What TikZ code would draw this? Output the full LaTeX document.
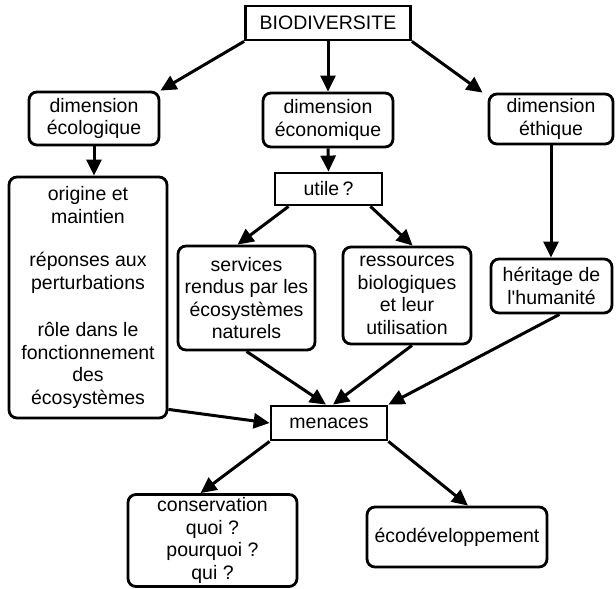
\documentclass[tikz,border=0pt]{standalone}
\usepackage{fontspec}
\setmainfont{Liberation Sans}
\usetikzlibrary{arrows.meta}
\begin{document}
\begin{tikzpicture}[x=1pt,y=-1pt,
  every node/.style={font=\fontsize{19.5pt}{22.5pt}\selectfont, align=center, inner sep=0pt},
  sqbox/.style={draw, line width=2.8pt},
  rbox/.style={draw, line width=2.8pt, rounded corners=8pt},
  conn/.style={line width=3pt, -{Triangle[length=16pt,width=15pt]}}
]
\useasboundingbox (0,0) rectangle (616,589);

% nodes
\node[sqbox, minimum width=165pt, minimum height=34pt] (bio) at (328,23) {BIODIVERSITE};
\node[rbox, minimum width=130pt, minimum height=53pt] (eco) at (94,118.5) {dimension\\écologique};
\node[rbox, minimum width=130pt, minimum height=54pt] (econ) at (328,120) {dimension\\économique};
\node[rbox, minimum width=124pt, minimum height=50pt] (eth) at (551,119) {dimension\\éthique};
\node[rbox, minimum width=158pt, minimum height=241pt] (orig) at (88,297.5)
  {origine et\\maintien\\[21pt]réponses aux\\perturbations\\[25pt]rôle dans le\\fonctionnement\\des\\écosystèmes};
\node[sqbox, minimum width=107pt, minimum height=32pt] (utile) at (328.5,189) {utile\,?};
\node[rbox, minimum width=137pt, minimum height=104pt] (serv) at (246.5,298) {services\\rendus par les\\écosystèmes\\naturels};
\node[rbox, minimum width=128pt, minimum height=97pt] (ress) at (407,295.5) {ressources\\biologiques\\et leur\\utilisation};
\node[rbox, minimum width=121pt, minimum height=54pt] (her) at (551.5,286) {héritage de\\l\textquotesingle humanité};
\node[sqbox, minimum width=116pt, minimum height=34pt] (men) at (329,423) {menaces};
\node[rbox, minimum width=169pt, minimum height=92pt] (cons) at (212.5,540.5) {conservation\\quoi ?\\pourquoi ?\\qui ?};
\node[rbox, minimum width=180pt, minimum height=60pt] (dev) at (457,537) {écodéveloppement};

% connectors
\draw[conn] (bio.south west) -- (eco.north east);
\draw[conn] (bio.south) -- (econ.north);
\draw[conn] (bio.south east) -- ([xshift=-5pt]eth.north west);
\draw[conn] (eco.south) -- (eco.south |- orig.north);
\draw[conn] (econ.south) -- (utile.north);
\draw[conn] ([xshift=15pt]utile.south west) -- ([xshift=61pt]serv.north west);
\draw[conn] ([xshift=-13pt]utile.south east) -- ([xshift=71pt]ress.north west);
\draw[conn] (eth.south) -- (eth.south |- her.north);
\draw[conn] (serv.south) -- ([xshift=-3pt]men.north);
\draw[conn] ([xshift=5pt]ress.south) -- ([xshift=4pt]men.north);
\draw[conn] ([xshift=8pt]her.south) -- (men.north east);
\draw[conn] ([yshift=10pt]orig.south east) -- (men.west);
\draw[conn] (men.south west) -- ([xshift=-12pt]cons.north);
\draw[conn] (men.south east) -- ([xshift=11pt]dev.north);
\end{tikzpicture}
\end{document}
